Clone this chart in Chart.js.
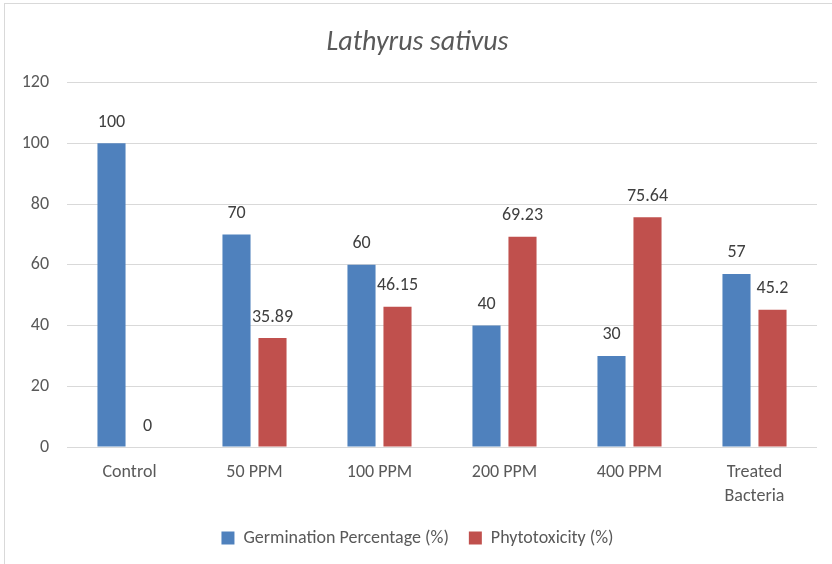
<!DOCTYPE html>
<html lang="en">
<head>
  <meta charset="UTF-8" />
  <title>Lathyrus sativus</title>
  <script src="https://cdn.jsdelivr.net/npm/chart.js"></script>
  <style>
    * { box-sizing: border-box; margin: 0; padding: 0; }
    body { background: #fff; width: 832px; height: 564px; overflow: hidden; position: relative; }
    .frame {
      position: absolute; left: 4px; top: 3px; width: 900px; height: 700px;
      border: 1px solid #d9d9d9;
    }
    .wrap { position: absolute; left: 0; top: 0; width: 832px; height: 564px; }
  </style>
</head>
<body>
  <div class="frame"></div>
  <div class="wrap"><canvas id="chart" width="832" height="564"></canvas></div>

  <script>
    const categories = ['Control', '50 PPM', '100 PPM', '200 PPM', '400 PPM', ['Treated', 'Bacteria']];
    const germination = [100, 70, 60, 40, 30, 57];
    const phytotoxicity = [0, 35.89, 46.15, 69.23, 75.64, 45.2];
    const yTicks = [0, 20, 40, 60, 80, 100, 120];

    const fontFamily = "Carlito, Lato, 'Open Sans', sans-serif";
    const textColor = '#595959';

    // value labels above each bar
    const barLabels = {
      id: 'barLabels',
      afterDatasetsDraw(chart) {
        const ctx = chart.ctx;
        ctx.save();
        ctx.font = '18px ' + fontFamily;
        ctx.fillStyle = '#404040';
        ctx.textAlign = 'center';
        ctx.textBaseline = 'middle';
        chart.data.datasets.forEach((ds, i) => {
          chart.getDatasetMeta(i).data.forEach((bar, j) => {
            ctx.fillText(String(ds.data[j]), bar.x, bar.y - 21);
          });
        });
        ctx.restore();
      }
    };

    new Chart(document.getElementById('chart'), {
      type: 'bar',
      data: {
        labels: categories,
        datasets: [{
          label: 'Germination Percentage (%)',
          data: germination,
          backgroundColor: '#4F81BD',
          categoryPercentage: 0.576,
          barPercentage: 0.78
        }, {
          label: 'Phytotoxicity (%)',
          data: phytotoxicity,
          backgroundColor: '#C0504D',
          categoryPercentage: 0.576,
          barPercentage: 0.78
        }]
      },
      options: {
        responsive: false,
        animation: false,
        layout: { padding: { left: 18, right: 15, top: 0, bottom: 7 } },
        plugins: {
          title: {
            display: true,
            text: 'Lathyrus sativus',
            color: textColor,
            font: { family: fontFamily, size: 28, style: 'italic', weight: 'normal', lineHeight: 1.2 },
            padding: { top: 26, bottom: 23 }
          },
          legend: {
            position: 'bottom',
            labels: {
              color: textColor,
              boxWidth: 13,
              boxHeight: 13,
              padding: 20,
              font: { family: fontFamily, size: 18, lineHeight: 1.2 }
            }
          },
          tooltip: { enabled: false }
        },
        scales: {
          x: {
            grid: { display: false },
            border: { display: false },
            ticks: {
              color: textColor,
              padding: 6,
              maxRotation: 0,
              font: { family: fontFamily, size: 18, lineHeight: 1.33 }
            },
            afterFit(scale) { scale.height = 62; }
          },
          y: {
            min: 0,
            max: 120,
            grid: { color: '#d9d9d9', drawTicks: false },
            border: { display: false },
            afterBuildTicks(scale) { scale.ticks = yTicks.map(v => ({ value: v })); },
            ticks: {
              color: textColor,
              padding: 18,
              font: { family: fontFamily, size: 18 }
            },
            afterFit(scale) { scale.width = 49; }
          }
        }
      },
      plugins: [barLabels]
    });
  </script>
</body>
</html>
